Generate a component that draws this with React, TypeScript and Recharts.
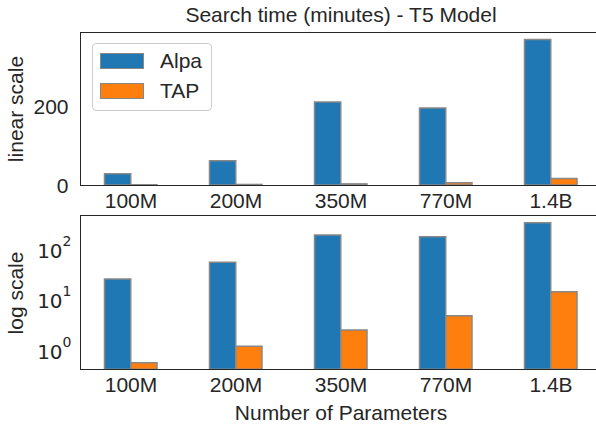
import React from 'react';
import { BarChart, Bar, XAxis, YAxis } from 'recharts';

const categories = ['100M', '200M', '350M', '770M', '1.4B'];
const alpaMinutes = [29, 62, 212, 197, 372];
const tapMinutes = [0.65, 1.37, 2.87, 5.5, 16.3];
const linearTicks = [0, 200];
const logTicks = [1, 10, 100];
const seriesNames = ['Alpa', 'TAP'];
const seriesColors = ['#1f77b4', '#ff7f0e'];

const data = categories.map((name, i) => ({ name, Alpa: alpaMinutes[i], TAP: tapMinutes[i] }));

const TEXT = '#262626';
const FONT = '"Liberation Sans", Arial, sans-serif';
const BAND = 105;
const PLOT_LEFT = 78.5;
const CHART_W = PLOT_LEFT + BAND * 5;

const XTick = ({ x, y, payload }: any) => (
    <text x={x} y={y + 15} textAnchor="middle" dominantBaseline="central" fill={TEXT} fontSize={21} fontFamily={FONT}>
        {payload.value}
    </text>
);

const LinTick = ({ x, y, payload }: any) => (
    <text x={x - 10} y={y} textAnchor="end" dominantBaseline="central" fill={TEXT} fontSize={21} fontFamily={FONT}>
        {payload.value}
    </text>
);

// matplotlib mathtext look: 10 with a raised exponent, DejaVu glyphs
const LogTick = ({ x, y, payload }: any) => (
    <text x={x - 7} y={y - 1} textAnchor="end" dominantBaseline="central" fill={TEXT} fontSize={20} fontFamily='"DejaVu Sans", sans-serif'>
        10<tspan dy={-10} fontSize={14}>{Math.round(Math.log10(payload.value))}</tspan>
    </text>
);

const frame = (top: number, height: number): React.CSSProperties => ({
    position: 'absolute', left: 80.25, top, width: 600, height, boxSizing: 'border-box',
    borderTop: `1.5px solid ${TEXT}`, borderLeft: `1.5px solid ${TEXT}`, borderBottom: `1.5px solid ${TEXT}`,
    pointerEvents: 'none'
});

const bars = seriesNames.map((name, i) => (
    <Bar key={name} dataKey={name} fill={seriesColors[i]} stroke="#888" strokeWidth={1.5} barSize={26.25} isAnimationActive={false} />
));

export default function App() {
    return (
        <div style={{ position: 'absolute', left: 0, top: 0, width: 596, height: 427, overflow: 'hidden', background: '#fff', fontFamily: FONT }}>
            <div style={{ position: 'absolute', left: 0, top: 0, width: 682, textAlign: 'center', fontSize: 21, color: TEXT, lineHeight: '30px' }}>
                Search time (minutes) - T5 Model
            </div>

            <div style={{ position: 'absolute', left: 0, top: 0 }}>
                <BarChart width={CHART_W} height={215} data={data} margin={{ top: 32, right: 0, bottom: 0, left: 0 }} barGap={0}>
                    <XAxis dataKey="name" axisLine={false} tickLine={false} tickSize={0} tickMargin={0} height={30} tick={<XTick />} interval={0} />
                    <YAxis type="number" domain={[0, 391]} ticks={linearTicks} width={PLOT_LEFT} axisLine={false} tickLine={false} tickSize={0} tickMargin={0} tick={<LinTick />} />
                    {bars}
                </BarChart>
            </div>

            <div style={{ position: 'absolute', left: 0, top: 200 }}>
                <BarChart width={CHART_W} height={200} data={data} margin={{ top: 15.7, right: 0, bottom: 0, left: 0 }} barGap={0}>
                    <XAxis dataKey="name" axisLine={false} tickLine={false} tickSize={0} tickMargin={0} height={30.7} tick={<XTick />} interval={0} />
                    <YAxis type="number" scale="log" domain={[0.484, 511]} allowDataOverflow ticks={logTicks} width={PLOT_LEFT} axisLine={false} tickLine={false} tickSize={0} tickMargin={0} tick={<LogTick />} />
                    {bars}
                </BarChart>
            </div>

            <div style={frame(31.5, 154.5)} />
            <div style={frame(215, 155)} />

            <div style={{
                position: 'absolute', left: 92, top: 43, width: 120, height: 68, boxSizing: 'border-box',
                border: '1px solid #cccccc', borderRadius: 4, background: 'rgba(255,255,255,0.85)'
            }}>
                {seriesNames.map((name, i) => (
                    <div key={name} style={{ position: 'absolute', left: 7, top: 9 + i * 29.5, height: 16, display: 'flex', alignItems: 'center' }}>
                        <div style={{ width: 42, height: 14, background: seriesColors[i], border: '1.5px solid #888' }} />
                        <span style={{ marginLeft: 16, fontSize: 21, color: TEXT, lineHeight: '16px' }}>{name}</span>
                    </div>
                ))}
            </div>

            <div style={{ position: 'absolute', left: 16 - 80, top: 108.5 - 15, width: 160, height: 30, lineHeight: '30px', textAlign: 'center', fontSize: 21, color: TEXT, transform: 'rotate(-90deg)' }}>
                linear scale
            </div>
            <div style={{ position: 'absolute', left: 16 - 80, top: 292.5 - 15, width: 160, height: 30, lineHeight: '30px', textAlign: 'center', fontSize: 21, color: TEXT, transform: 'rotate(-90deg)' }}>
                log scale
            </div>
            <div style={{ position: 'absolute', left: 0, top: 398, width: 682, textAlign: 'center', fontSize: 21, color: TEXT, lineHeight: '30px' }}>
                Number of Parameters
            </div>
        </div>
    );
}
